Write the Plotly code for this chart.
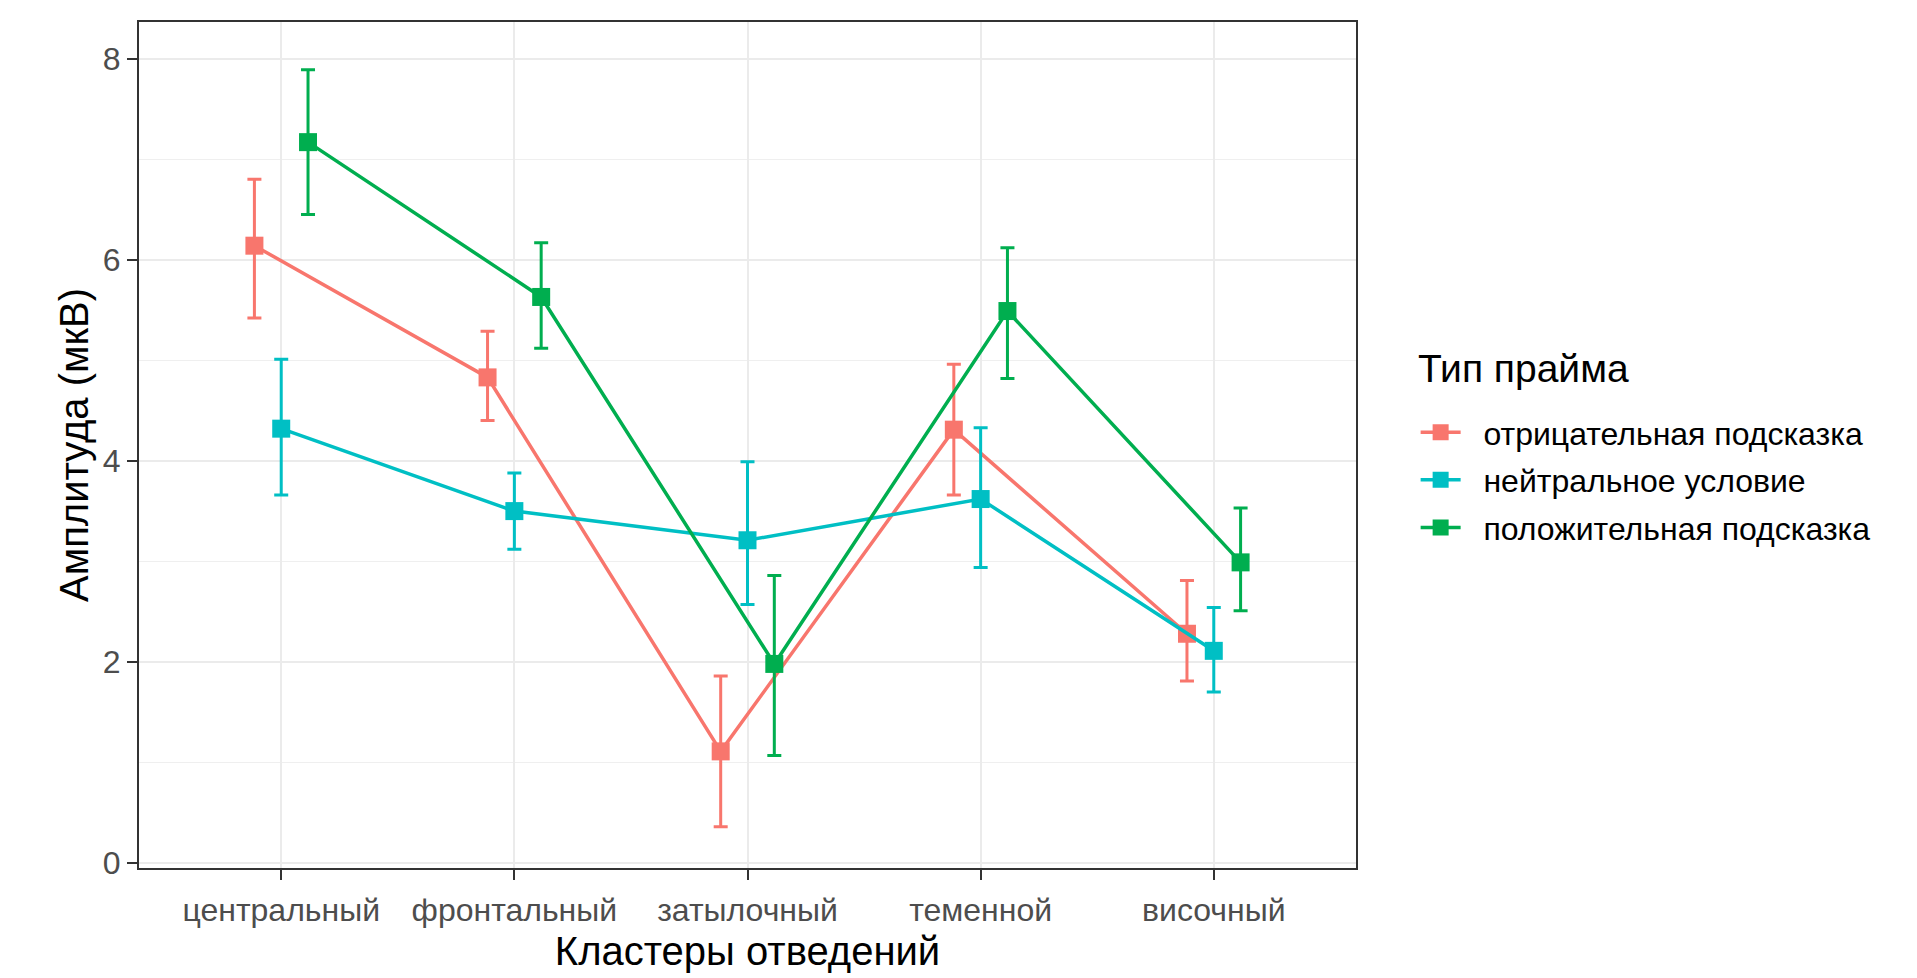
import plotly.graph_objects as go

# ---- data ----
categories = ["центральный", "фронтальный", "затылочный", "теменной", "височный"]
series_names = ["отрицательная подсказка", "нейтральное условие", "положительная подсказка"]

neg_mean = [6.14, 4.83, 1.11, 4.31, 2.28]
neg_low = [5.42, 4.40, 0.36, 3.66, 1.81]
neg_high = [6.80, 5.29, 1.86, 4.96, 2.81]

neu_mean = [4.32, 3.50, 3.21, 3.62, 2.11]
neu_low = [3.66, 3.12, 2.57, 2.94, 1.70]
neu_high = [5.01, 3.88, 3.99, 4.33, 2.54]

pos_mean = [7.17, 5.63, 1.98, 5.49, 2.99]
pos_low = [6.45, 5.12, 1.07, 4.82, 2.51]
pos_high = [7.89, 6.17, 2.86, 6.12, 3.53]

y_ticks = [0, 2, 4, 6, 8]

# ---- style ----
colors = ["#F8766D", "#00BFC4", "#00AE4F"]
dodge = [-0.115, 0.0, 0.115]
FONT = "Liberation Sans, Arial, sans-serif"
LEGEND_PAD = "\u00a0\u00a0"

series = [
    (neg_mean, neg_low, neg_high),
    (neu_mean, neu_low, neu_high),
    (pos_mean, pos_low, pos_high),
]

T, B = 22, 101
PLOT_H = 978 - T - B

fig = go.Figure()
for i, (name, (m, lo, hi)) in enumerate(zip(series_names, series)):
    xs = [k + 1 + dodge[i] for k in range(len(categories))]
    fig.add_trace(go.Scatter(
        x=xs, y=m, name=LEGEND_PAD + name, mode="lines+markers",
        legendgroup="g%d" % i,
        line=dict(color=colors[i], width=3.5),
        marker=dict(symbol="square", size=18, color=colors[i]),
        error_y=dict(type="data", symmetric=False,
                     array=[h - v for h, v in zip(hi, m)],
                     arrayminus=[v - l for v, l in zip(m, lo)],
                     color=colors[i], thickness=3, width=7),
    ))

fig.add_annotation(
    text="Тип прайма", xref="paper", yref="paper",
    x=(1416 - 139) / 1217, y=(978 - B - 372) / PLOT_H, xanchor="left", yanchor="middle",
    showarrow=False, font=dict(size=39, color="black", family=FONT),
)

fig.update_layout(
    width=1917, height=978,
    margin=dict(l=139, r=561, t=T, b=B),
    paper_bgcolor="white", plot_bgcolor="white",
    font=dict(family=FONT, size=32, color="black"),
    showlegend=True,
    legend=dict(
        font=dict(size=32, color="black"),
        x=1.049, xanchor="left", y=(978 - B - 409) / PLOT_H, yanchor="top",
        itemwidth=40, tracegroupgap=3, bgcolor="rgba(0,0,0,0)",
    ),
    xaxis=dict(
        range=[0.39, 5.61], tickmode="array",
        tickvals=[k + 1 for k in range(len(categories))], ticktext=categories,
        showgrid=True, gridcolor="#EBEBEB", gridwidth=2,
        showline=True, linecolor="#333333", linewidth=2, mirror=True,
        ticks="outside", ticklen=10, tickwidth=2, tickcolor="#333333",
        ticklabelstandoff=3,
        tickfont=dict(size=32, color="#4D4D4D"),
        zeroline=False,
        title=dict(text="Кластеры отведений", font=dict(size=40, color="black"), standoff=10),
    ),
    yaxis=dict(
        range=[-0.05, 8.365], tickmode="array", tickvals=y_ticks,
        showgrid=True, gridcolor="#EBEBEB", gridwidth=2,
        minor=dict(dtick=1, tick0=0, showgrid=True, gridcolor="#EFEFEF", gridwidth=1.3),
        showline=True, linecolor="#333333", linewidth=2, mirror=True,
        ticks="outside", ticklen=10, tickwidth=2, tickcolor="#333333",
        tickfont=dict(size=32, color="#4D4D4D"),
        zeroline=False,
        title=dict(text="Амплитуда (мкВ)", font=dict(size=40, color="black"), standoff=2),
    ),
)

fig.write_html(
    "out.html", config={"displayModeBar": False},
    post_script="document.body.style.margin='0px';",
)
